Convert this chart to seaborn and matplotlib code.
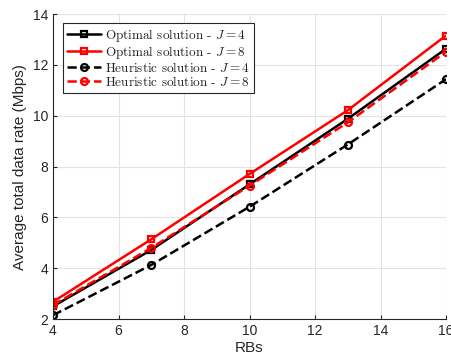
import matplotlib
matplotlib.use("Agg")
import matplotlib.pyplot as plt
import seaborn as sns
import pandas as pd

rbs = [4, 7, 10, 13, 16]
opt_j4 = [2.50, 4.72, 7.30, 9.88, 12.64]
opt_j8 = [2.68, 5.14, 7.71, 10.22, 13.16]
heu_j4 = [2.15, 4.13, 6.42, 8.87, 11.44]
heu_j8 = [2.55, 4.80, 7.25, 9.74, 12.52]
labels = ["Optimal solution - $J=4$", "Optimal solution - $J=8$",
          "Heuristic solution - $J=4$", "Heuristic solution - $J=8$"]
x_ticks = [4, 6, 8, 10, 12, 14, 16]
y_ticks = [2, 4, 6, 8, 10, 12, 14]

sns.set_style("white")
plt.rcParams['font.family'] = ['Liberation Sans', 'DejaVu Sans']
plt.rcParams['mathtext.fontset'] = 'cm'

fig = plt.figure(figsize=(4.51, 3.63), dpi=100)
ax = fig.add_axes([0.1175, 0.121, 0.8715, 0.84])

series = [opt_j4, opt_j8, heu_j4, heu_j8]
colors = ['black', 'red', 'black', 'red']
markers = ['s', 's', 'o', 'o']
dashes = ['-', '-', '--', '--']
for vals, lab, c, m, ls in zip(series, labels, colors, markers, dashes):
    df = pd.DataFrame({"RBs": rbs, "rate": vals})
    sns.lineplot(data=df, x="RBs", y="rate", ax=ax, color=c, marker=m,
                 linestyle=ls, linewidth=1.8, markersize=5,
                 markerfacecolor='none', markeredgecolor=c, markeredgewidth=1.6,
                 label=lab)

ax.set_xlim(4, 16)
ax.set_ylim(2, 14)
ax.set_xticks(x_ticks)
ax.set_yticks(y_ticks)
ax.grid(True, color='#e3e3e3', linewidth=0.8)
ax.set_axisbelow(True)
for s in ['top', 'right']:
    ax.spines[s].set_visible(False)
for s in ['left', 'bottom']:
    ax.spines[s].set_color('#262626')
    ax.spines[s].set_linewidth(0.8)
ax.tick_params(direction='in', length=3, colors='#262626', labelsize=10,
               left=True, bottom=True)
ax.set_xlabel("RBs", fontsize=11, color='#262626', labelpad=2)
ax.set_ylabel("Average total data rate (Mbps)", fontsize=11, color='#262626', labelpad=4)

leg = ax.legend(loc='upper left', bbox_to_anchor=(0.015, 0.985),
                prop={'family': 'cmr10', 'size': 9.5}, frameon=True, fancybox=False,
                edgecolor='#262626', framealpha=1, borderpad=0.3, labelspacing=0.0,
                handlelength=2.6, handletextpad=0.3, borderaxespad=0.3)
leg.get_frame().set_linewidth(0.8)

fig.savefig("out.png", dpi=100)
